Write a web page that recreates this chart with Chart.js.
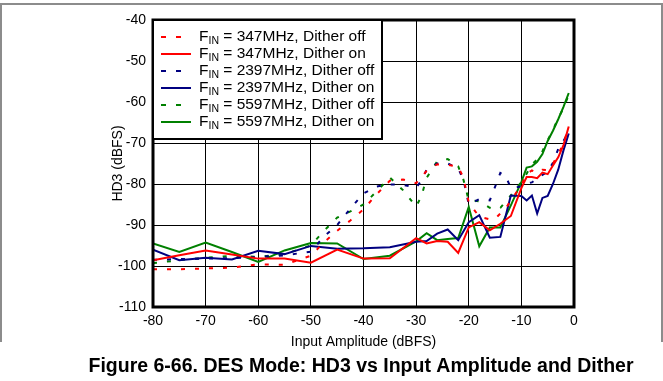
<!DOCTYPE html>
<html>
<head>
<meta charset="utf-8">
<script src="https://cdn.jsdelivr.net/npm/chart.js@4"></script>
<style>
  html, body { margin: 0; padding: 0; background: #fff; }
  #wrap { width: 663px; height: 381px; position: relative; }
</style>
</head>
<body>
<div id="wrap"><canvas id="hd3Chart" width="663" height="381"></canvas></div>
<script>
// Input amplitude points (dBFS)
const xOff = [-80,-75,-70,-65,-60,-55,-50,-47.5,-45,-42.5,-40,-37.5,-35,-32.5,-30,-29,-28,-26,-24,-22,-21,-20,-18,-16,-15,-14,-13,-12,-10,-9,-8,-7,-6,-5,-4,-3,-2,-1];
const xOn  = [-80,-75,-70,-65,-60,-55,-50,-45,-40,-35,-30,-28,-26,-24,-22,-20,-18,-16,-14,-12,-10,-9,-8,-7,-6,-5,-4,-3,-2,-1];

// HD3 (dBFS), dither off
const red347Off   = [-100.8,-100.8,-100.6,-100.4,-99.6,-99.7,-97.5,-94.2,-91.4,-88.9,-86.2,-82.5,-79.2,-78.9,-79.8,-78.3,-76.8,-75.2,-75.3,-75.8,-78.5,-84.5,-88.0,-88.6,-88.5,-87.2,-86.0,-84.0,-80.3,-77.5,-76.7,-77.3,-76.5,-76.6,-75.0,-72.8,-70.0,-66.1];
const blue2397Off = [-98.5,-98.3,-98.2,-98.1,-97.8,-97.4,-96.5,-92.8,-90.0,-86.0,-82.3,-80.6,-80.1,-80.2,-80.9,-79.2,-76.5,-75.0,-75.0,-76.2,-79.0,-85.0,-83.7,-84.0,-80.7,-77.3,-78.0,-81.0,-80.6,-79.9,-79.6,-78.7,-77.8,-77.0,-74.8,-71.5,-69.5,-67.3];
const green5597Off= [-99.3,-98.6,-98.0,-97.5,-97.8,-97.1,-95.0,-91.4,-88.2,-86.7,-85.0,-81.8,-78.4,-81.5,-85.5,-83.0,-78.5,-74.5,-73.9,-75.7,-79.0,-84.0,-84.2,-85.8,-86.2,-85.8,-84.3,-82.8,-79.5,-77.5,-75.2,-74.0,-72.0,-69.3,-66.8,-64.0,-61.5,-58.2];

// HD3 (dBFS), dither on
const red347On    = [-98.6,-97.4,-96.2,-97.2,-98.2,-98.2,-99.2,-96.0,-98.2,-98.1,-93.2,-94.5,-93.9,-94.1,-96.8,-90.6,-89.3,-91.3,-89.7,-87.8,-81.0,-78.3,-78.3,-78.6,-77.2,-77.6,-75.5,-73.5,-70.5,-66.0];
const blue2397On  = [-96.0,-98.6,-98.0,-98.4,-96.3,-97.1,-95.1,-95.8,-95.7,-95.4,-94.1,-93.9,-92.1,-91.1,-93.7,-89.3,-87.6,-93.1,-92.9,-82.8,-82.9,-84.0,-82.8,-87.2,-83.4,-82.9,-80.0,-76.5,-71.8,-67.7];
const green5597On = [-94.5,-96.6,-94.3,-96.6,-99.0,-96.2,-94.4,-94.5,-98.3,-97.5,-94.0,-92.0,-93.7,-93.4,-93.2,-85.6,-95.2,-90.6,-90.6,-85.2,-79.5,-76.0,-75.7,-74.6,-72.7,-69.5,-67.0,-64.2,-61.2,-57.8];

const xTicks = [-80,-70,-60,-50,-40,-30,-20,-10,0];
const yTicks = [-40,-50,-60,-70,-80,-90,-100,-110];

const legendRows = [
    { mhz: '347MHz',  mode: 'Dither off', color: '#ff0000', dash: true },
    { mhz: '347MHz',  mode: 'Dither on',  color: '#ff0000', dash: false },
    { mhz: '2397MHz', mode: 'Dither off', color: '#000080', dash: true },
    { mhz: '2397MHz', mode: 'Dither on',  color: '#000080', dash: false },
    { mhz: '5597MHz', mode: 'Dither off', color: '#008000', dash: true },
    { mhz: '5597MHz', mode: 'Dither on',  color: '#008000', dash: false },
];

const pts = (xs, ys) => xs.map((x, i) => ({ x, y: ys[i] }));
const series = (data, color, dashed) => ({
    data,
    borderColor: color,
    backgroundColor: color,
    borderWidth: 2,
    borderDash: dashed ? [4, 10] : [],
    pointRadius: 0,
    tension: 0,
});

const FONT = '"Liberation Sans", Arial, sans-serif';

// frame, plot border, legend box and caption
const decor = {
    id: 'decor',
    beforeDraw(chart) {
        const c = chart.ctx;
        c.save();
        c.fillStyle = '#fff';
        c.fillRect(0, 0, chart.width, chart.height);
        c.strokeStyle = '#8c8c8c';
        c.lineWidth = 2;
        c.beginPath();
        c.moveTo(1, 342); c.lineTo(1, 4); c.lineTo(662, 4); c.lineTo(662, 342);
        c.stroke();
        c.restore();
    },
    afterDraw(chart) {
        const c = chart.ctx;
        const a = chart.chartArea;
        c.save();
        c.strokeStyle = '#000';
        c.lineWidth = 3;
        c.strokeRect(a.left, a.top, a.right - a.left, a.bottom - a.top);

        // legend
        const lx = a.left, ly = a.top, lw = 229, lh = 119;
        c.fillStyle = '#fff';
        c.fillRect(lx, ly, lw, lh);
        c.lineWidth = 2;
        c.strokeRect(lx, ly, lw, lh);
        legendRows.forEach((r, i) => {
            const y = ly + 17 + i * 17;
            c.strokeStyle = r.color;
            c.lineWidth = 2;
            c.setLineDash(r.dash ? [5, 10] : []);
            c.beginPath();
            c.moveTo(lx + 8, y); c.lineTo(lx + 38, y);
            c.stroke();
            c.setLineDash([]);
            c.fillStyle = '#000';
            c.textBaseline = 'middle';
            c.textAlign = 'left';
            c.font = '15.5px ' + FONT;
            let tx = lx + 46;
            c.fillText('F', tx, y);
            tx += c.measureText('F').width;
            c.font = '10.5px ' + FONT;
            c.fillText('IN', tx, y + 4);
            tx += c.measureText('IN').width;
            c.font = '15.5px ' + FONT;
            c.fillText(' = ' + r.mhz + ', ' + r.mode, tx, y);
        });

        // caption
        c.fillStyle = '#000';
        c.textAlign = 'center';
        c.textBaseline = 'middle';
        c.font = 'bold 19.5px ' + FONT;
        c.fillText('Figure 6-66. DES Mode: HD3 vs Input Amplitude and Dither', 361, 367);
        c.restore();
    }
};

const ctx = document.getElementById('hd3Chart');
new Chart(ctx, {
    type: 'line',
    data: {
        datasets: [
            series(pts(xOff, red347Off), '#ff0000', true),
            series(pts(xOn, red347On), '#ff0000', false),
            series(pts(xOff, blue2397Off), '#000080', true),
            series(pts(xOn, blue2397On), '#000080', false),
            series(pts(xOff, green5597Off), '#008000', true),
            series(pts(xOn, green5597On), '#008000', false),
        ]
    },
    options: {
        responsive: false,
        animation: false,
        layout: { padding: { left: 110, right: 89, top: 20, bottom: 30 } },
        plugins: { legend: { display: false }, tooltip: { enabled: false } },
        scales: {
            x: {
                type: 'linear',
                min: -80, max: 0,
                afterBuildTicks: s => { s.ticks = xTicks.map(v => ({ value: v })); },
                afterFit: s => { s.height = 44; },
                grid: { color: '#000', lineWidth: 1, drawTicks: false },
                border: { display: false },
                ticks: { color: '#000', font: { family: FONT, size: 14 }, padding: 6, maxRotation: 0 },
                title: { display: true, text: 'Input Amplitude (dBFS)', color: '#000', font: { family: FONT, size: 14 }, padding: 0 }
            },
            y: {
                min: -110, max: -40,
                afterBuildTicks: s => { s.ticks = yTicks.map(v => ({ value: v })); },
                afterFit: s => { s.width = 43; },
                grid: { color: '#000', lineWidth: 1, drawTicks: false },
                border: { display: false },
                ticks: { color: '#000', font: { family: FONT, size: 14 }, padding: 7 },
                title: { display: true, text: 'HD3 (dBFS)', color: '#000', font: { family: FONT, size: 14 }, padding: 0 }
            }
        }
    },
    plugins: [decor]
});
</script>
</body>
</html>
